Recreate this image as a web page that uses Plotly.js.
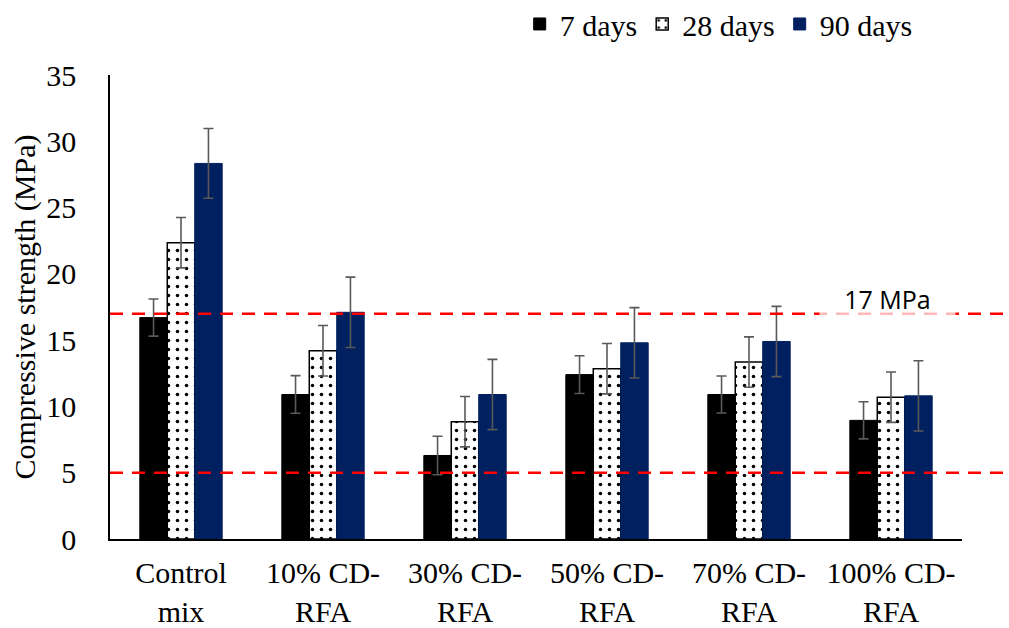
<!DOCTYPE html>
<html>
<head>
<meta charset="utf-8">
<script src="https://cdn.plot.ly/plotly-3.0.1.min.js"></script>
<style>html,body{margin:0;padding:0;background:#fff;}#chart{width:1009px;height:628px;}</style>
</head>
<body>
<div id="chart"></div>
<script>
const categories = ["Control<br>mix", "10% CD-<br>RFA", "30% CD-<br>RFA", "50% CD-<br>RFA", "70% CD-<br>RFA", "100% CD-<br>RFA"];
const days7 = [16.7, 10.9, 6.3, 12.4, 10.9, 8.95];
const days28 = [22.35, 14.2, 8.85, 12.85, 13.35, 10.7];
const days90 = [28.33, 17.1, 10.9, 14.8, 14.9, 10.8];
const err7 = [1.4, 1.42, 1.45, 1.42, 1.4, 1.4];
const err28 = [1.9, 1.9, 1.9, 1.9, 1.9, 1.9];
const err90 = [2.63, 2.65, 2.65, 2.65, 2.65, 2.65];
const seriesNames = ["7 days", "28 days", "90 days"];
const refLines = [17, 5];
const refLabel = "17 MPa";
const yTicks = [0, 5, 10, 15, 20, 25, 30, 35];

const serif = "Liberation Serif, Times New Roman, serif";
const errStyle = {type: 'data', visible: true, color: '#595959', thickness: 1.6, width: 5};

const traces = [
  {type: 'bar', name: seriesNames[0], x: categories, y: days7,
   marker: {color: '#000000', line: {color: '#000000', width: 1}},
   error_y: Object.assign({array: err7}, errStyle)},
  {type: 'bar', name: seriesNames[1], x: categories, y: days28,
   marker: {color: '#ffffff', line: {color: '#000000', width: 1.5},
            pattern: {shape: '.', fgcolor: '#000000', bgcolor: '#ffffff', size: 9, solidity: 0.12}},
   error_y: Object.assign({array: err28}, errStyle)},
  {type: 'bar', name: seriesNames[2], x: categories, y: days90,
   marker: {color: '#002060', line: {color: '#002060', width: 1}},
   error_y: Object.assign({array: err90}, errStyle)}
];

const shapes = refLines.map(v => ({
  type: 'line', xref: 'paper', yref: 'y', x0: 0, x1: 1.06, y0: v, y1: v,
  line: {color: '#ff0000', width: 2.5, dash: '13px,9px'}, layer: 'above'
}));

const layout = {
  width: 1009, height: 628,
  margin: {l: 110, r: 47, t: 75, b: 89, autoexpand: false},
  paper_bgcolor: '#ffffff', plot_bgcolor: '#ffffff',
  font: {family: serif, size: 30, color: '#000000'},
  barmode: 'group', bargap: 0.42, bargroupgap: 0,
  showlegend: true,
  legend: {orientation: 'h', x: 0.948, xanchor: 'right', y: 1.11, yanchor: 'middle',
           font: {family: serif, size: 30, color: '#000000'}, traceorder: 'normal',
           itemwidth: 30, bgcolor: 'rgba(0,0,0,0)'},
  xaxis: {type: 'category', showline: true, linecolor: '#000000', linewidth: 1.5,
          ticks: '', showgrid: false, zeroline: false, ticklabelstandoff: 6,
          tickfont: {family: serif, size: 30, color: '#000000'}, automargin: false},
  yaxis: {range: [0, 35], tickvals: yTicks, showline: true, linecolor: '#000000', linewidth: 1.5,
          ticks: '', showgrid: false, zeroline: false, ticklabelstandoff: 26,
          tickfont: {family: serif, size: 30, color: '#000000'},
          title: {text: 'Compressive strength (MPa)', font: {family: serif, size: 30, color: '#000000'}, standoff: 2},
          automargin: false},
  shapes: shapes,
  annotations: [{
    xref: 'paper', yref: 'y', x: 0.913, y: refLines[0], yanchor: 'bottom', xanchor: 'center',
    text: refLabel, showarrow: false, yshift: -4,
    font: {family: "Open Sans", size: 25, color: '#000000'},
    bgcolor: 'rgba(255,255,255,0.72)', width: 133, borderpad: 1
  }]
};

Plotly.newPlot('chart', traces, layout, {displayModeBar: false, responsive: false});
</script>
</body>
</html>
